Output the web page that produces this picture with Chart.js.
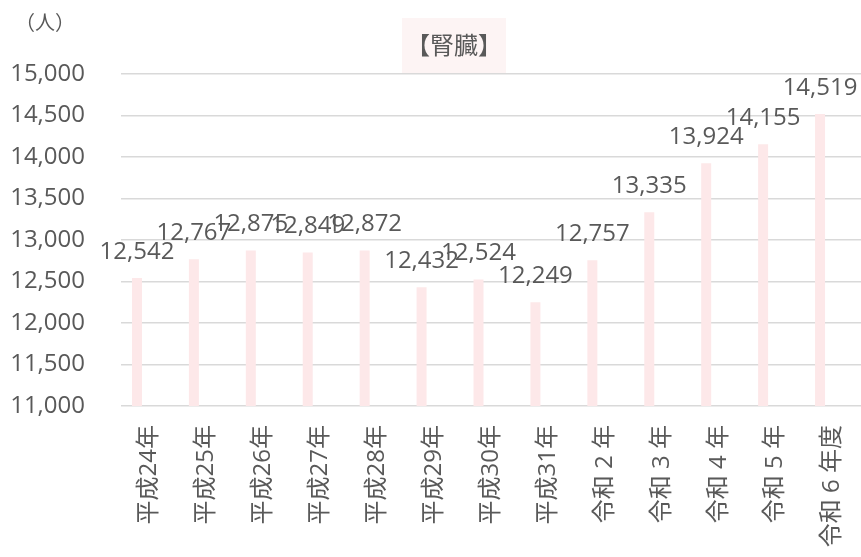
<!DOCTYPE html>
<html><head><meta charset="utf-8">
<script src="https://cdn.jsdelivr.net/npm/chart.js@4/dist/chart.umd.min.js"></script>
<style>html,body{margin:0;padding:0;background:#fff}#wrap{width:861px;height:557px;position:relative}</style>
</head><body><div id="wrap"><canvas id="c" width="861" height="557"></canvas></div>
<script>
const categories = ["平成24年","平成25年","平成26年","平成27年","平成28年","平成29年","平成30年","平成31年","令和 2 年","令和 3 年","令和 4 年","令和 5 年","令和 6 年度"];
const kidneyValues = [12542,12767,12875,12849,12872,12432,12524,12249,12757,13335,13924,14155,14519];
const hiddenSeries = [null,null,null,null,null,null,null,null,null,null,null,null,null];
const yTicks = [11000,11500,12000,12500,13000,13500,14000,14500,15000];
const chartTitle = "【腎臓】";
const unitLabel = "（人）";

const FONT = "'Open Sans','Noto Sans CJK JP',sans-serif";
const TXT = "#595959";

const extras = {
  id: 'extras',
  afterDraw(chart) {
    const ctx = chart.ctx;
    ctx.save();
    ctx.fillStyle = TXT;
    ctx.font = "20px 'Noto Sans CJK JP'";
    ctx.textAlign = 'center';
    ctx.textBaseline = 'middle';
    ctx.fillText(unitLabel, 45, 22);
    ctx.fillStyle = '#fdf4f4';
    ctx.fillRect(402, 18, 104, 55);
    ctx.fillStyle = TXT;
    ctx.font = "24px 'Noto Sans CJK JP'";
    ctx.fillText(chartTitle, 454, 45);
    const meta = chart.getDatasetMeta(0);
    ctx.font = "24px " + FONT;
    meta.data.forEach((bar, i) => {
      const v = chart.data.datasets[0].data[i];
      ctx.fillText(v.toLocaleString('en-US'), bar.x, bar.y - 26);
    });
    ctx.restore();
  }
};

new Chart(document.getElementById('c'), {
  type: 'bar',
  data: {
    labels: categories,
    datasets: [
      { data: kidneyValues, backgroundColor: '#fde8e9', barPercentage: 0.4, categoryPercentage: 0.878 },
      { data: hiddenSeries, backgroundColor: 'rgba(0,0,0,0)', barPercentage: 0.4, categoryPercentage: 0.878 }
    ]
  },
  options: {
    responsive: false,
    animation: false,
    layout: { padding: { top: 74, right: 0, left: 0, bottom: 0 } },
    plugins: { legend: { display: false }, tooltip: { enabled: false }, title: { display: false } },
    scales: {
      x: {
        grid: { display: false, drawTicks: false },
        border: { display: false },
        ticks: { color: TXT, font: { family: FONT, size: 24 }, minRotation: 90, maxRotation: 90, padding: 19, autoSkip: false },
        afterFit(s) { s.height = 151; s.paddingRight = 0; s.paddingLeft = 0; }
      },
      y: {
        min: 11000, max: 15000,
        afterBuildTicks(s) { s.ticks = yTicks.map(v => ({ value: v })); },
        grid: { color: '#d9d9d9', lineWidth: 1.5, drawTicks: false },
        border: { display: false },
        ticks: { color: TXT, font: { family: FONT, size: 24 }, padding: 36, callback: v => v.toLocaleString('en-US') },
        afterFit(s) { s.width = 121; }
      }
    }
  },
  plugins: [extras]
});
</script></body></html>
